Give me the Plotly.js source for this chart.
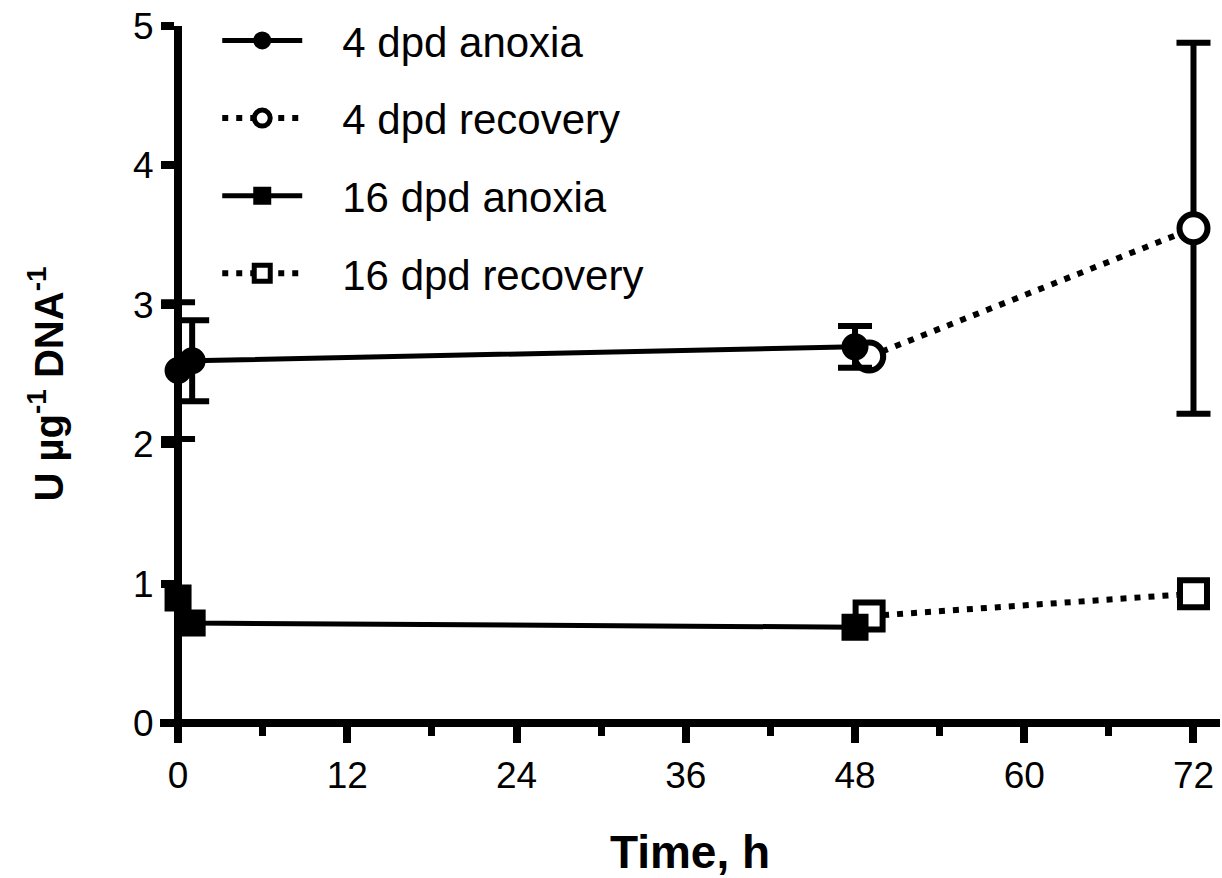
<!DOCTYPE html>
<html>
<head>
<meta charset="utf-8">
<script src="https://cdn.plot.ly/plotly-3.0.1.min.js"></script>
<style>html,body{margin:0;padding:0;background:#fff;}#chart{width:1222px;height:878px;}</style>
</head>
<body>
<div id="chart"></div>
<script>
// ---- data ----
const seriesNames = ["4 dpd anoxia", "4 dpd recovery", "16 dpd anoxia", "16 dpd recovery"];
const time4Anoxia = [0, 1, 48];
const val4Anoxia = [2.53, 2.60, 2.70];
const err4Anoxia = [0.49, 0.29, 0.15];
const time4Recovery = [49, 72];
const val4Recovery = [2.63, 3.55];
const err4Recovery = [0, 1.33];
const time16Anoxia = [0, 1, 48];
const val16Anoxia = [0.90, 0.72, 0.69];
const time16Recovery = [49, 72];
const val16Recovery = [0.77, 0.93];
const xTickVals = [0, 12, 24, 36, 48, 60, 72];
const yTickVals = [0, 1, 2, 3, 4, 5];

const FONT = 'Arial, "Liberation Sans", Helvetica, sans-serif';
const GAP = '\u00a0\u00a0\u00a0'; // spacing between legend symbol and label
const errStyle = {type: 'data', visible: true, color: '#000', thickness: 6, width: 17};

const traces = [
  {
    x: time4Recovery, y: val4Recovery, name: GAP + seriesNames[1], legendrank: 2, legendgroup: 'b',
    mode: 'lines+markers', type: 'scatter',
    line: {color: '#000', width: 6, dash: '6px,8px'},
    marker: {symbol: 'circle', size: 28, color: '#fff', line: {color: '#000', width: 6}},
    error_y: Object.assign({array: err4Recovery}, errStyle)
  },
  {
    x: time16Recovery, y: val16Recovery, name: GAP + seriesNames[3], legendrank: 4, legendgroup: 'd',
    mode: 'lines+markers', type: 'scatter',
    line: {color: '#000', width: 6, dash: '6px,8px'},
    marker: {symbol: 'square', size: 27, color: '#fff', line: {color: '#000', width: 6}}
  },
  {
    x: time4Anoxia, y: val4Anoxia, name: GAP + seriesNames[0], legendrank: 1, legendgroup: 'a',
    mode: 'lines+markers', type: 'scatter',
    line: {color: '#000', width: 5},
    marker: {symbol: 'circle', size: 25, color: '#000', line: {color: '#000', width: 2}},
    error_y: Object.assign({array: err4Anoxia}, errStyle)
  },
  {
    x: time16Anoxia, y: val16Anoxia, name: GAP + seriesNames[2], legendrank: 3, legendgroup: 'c',
    mode: 'lines+markers', type: 'scatter',
    line: {color: '#000', width: 5},
    marker: {symbol: 'square', size: 25, color: '#000', line: {color: '#000', width: 2}}
  }
];

const xMin = -1.28, xMax = 73.88, yMin = -0.133, yMax = 5.0;

const layout = {
  width: 1222, height: 878,
  margin: {l: 160, r: 2, t: 26, b: 136, pad: 0},
  paper_bgcolor: '#fff', plot_bgcolor: '#fff',
  font: {family: FONT, color: '#000', size: 36},
  showlegend: true,
  legend: {
    x: 0.054, y: 1.027, xanchor: 'left', yanchor: 'top',
    font: {family: FONT, size: 42, color: '#000'},
    itemwidth: 80, tracegroupgap: 20, traceorder: 'grouped',
    bgcolor: 'rgba(0,0,0,0)', borderwidth: 0
  },
  xaxis: {
    range: [xMin, xMax], anchor: 'free', position: (0 - yMin) / (yMax - yMin),
    showgrid: false, zeroline: false,
    showline: true, linewidth: 8, linecolor: '#000',
    tickmode: 'array', tickvals: xTickVals, ticktext: xTickVals.map(String),
    ticks: 'outside', ticklen: 16, tickwidth: 8, tickcolor: '#000',
    minor: {dtick: 6, tick0: 0, ticks: 'outside', ticklen: 9, tickwidth: 7, tickcolor: '#000', showgrid: false},
    tickfont: {family: FONT, size: 37, color: '#000'},
    title: {text: 'Time, h', font: {family: FONT, size: 46, color: '#000', weight: 'bold'}, standoff: 40}
  },
  yaxis: {
    range: [yMin, yMax], anchor: 'free', position: (0 - xMin) / (xMax - xMin),
    showgrid: false, zeroline: false,
    showline: true, linewidth: 8, linecolor: '#000',
    tickmode: 'array', tickvals: yTickVals, ticktext: yTickVals.map(String),
    ticks: 'outside', ticklen: 13, tickwidth: 8, tickcolor: '#000',
    tickfont: {family: FONT, size: 37, color: '#000'},
    title: {text: '<b>U µg<sup>-1</sup> DNA<sup>-1</sup></b>', font: {family: FONT, size: 40, color: '#000', weight: 'bold'}, standoff: 56}
  }
};

Plotly.newPlot('chart', traces, layout, {displayModeBar: false, staticPlot: true});
</script>
</body>
</html>
